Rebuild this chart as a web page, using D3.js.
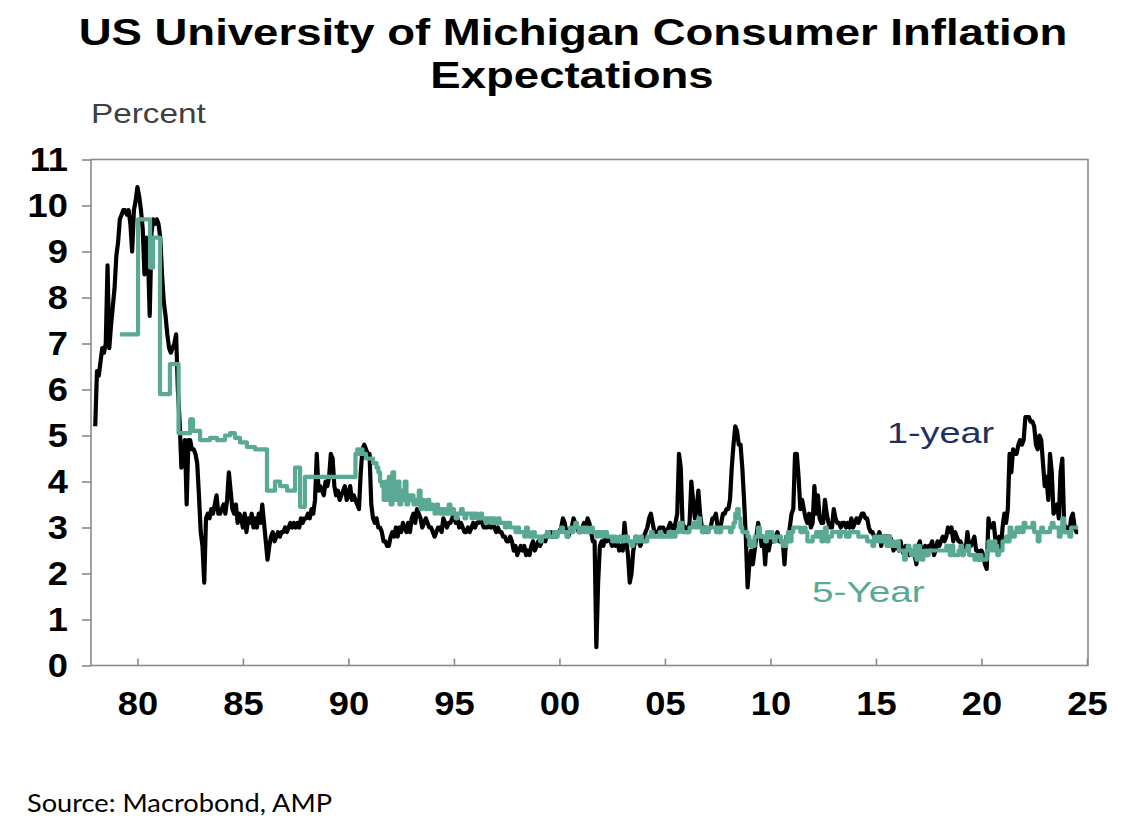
<!DOCTYPE html>
<html>
<head>
<meta charset="utf-8">
<script src="https://cdn.jsdelivr.net/npm/d3@7"></script>
<style>
  body { margin: 0; background: #fff; }
  svg { display: block; }
</style>
</head>
<body>
<svg id="chart" width="1132" height="839"></svg>
<script>
// University of Michigan, 1-year ahead expected inflation, monthly from Jan 1978
const oneYearStart = 1978;
const oneYear = [
  5.2, 6.4, 6.3, 6.6, 6.9, 6.8, 7.0, 8.7, 6.9, 7.4, 7.8, 8.2,   // 1978
  8.9, 9.2, 9.7, 9.8, 9.9, 9.9, 9.8, 9.9, 9.6, 9.0, 9.9, 10.1,  // 1979
  10.4, 10.2, 9.9, 9.5, 8.5, 9.3, 8.9, 7.6, 9.4, 9.7, 9.6, 9.7, // 1980
  9.6, 9.3, 8.5, 7.9, 7.6, 7.2, 6.9, 6.8, 6.9, 7.0, 7.2, 6.0,   // 1981
  5.3, 4.3, 4.6, 4.9, 3.5, 4.9, 4.9, 4.7, 4.7, 4.6, 4.4, 3.7,   // 1982
  2.9, 2.6, 1.8, 3.2, 3.3, 3.2, 3.4, 3.3, 3.5, 3.7, 3.3, 3.3,   // 1983
  3.4, 3.5, 3.3, 3.6, 4.2, 3.8, 3.4, 3.3, 3.5, 3.1, 3.3, 3.2,   // 1984
  3.0, 3.3, 2.9, 3.2, 3.1, 3.3, 3.0, 3.2, 3.0, 3.3, 3.1, 3.5,   // 1985
  3.1, 2.7, 2.3, 2.6, 2.8, 2.9, 2.7, 2.8, 2.9, 2.8, 2.9, 2.9,   // 1986
  3.0, 2.9, 3.0, 3.1, 3.0, 3.1, 3.0, 3.1, 3.0, 3.2, 3.1, 3.2,   // 1987
  3.2, 3.3, 3.2, 3.4, 3.3, 3.6, 4.6, 3.8, 3.9, 3.8, 3.7, 4.0,   // 1988
  3.9, 4.1, 4.6, 4.5, 3.9, 3.7, 3.8, 3.6, 3.7, 3.8, 3.9, 3.6,   // 1989
  3.7, 3.9, 3.6, 3.7, 3.6, 3.5, 3.4, 4.2, 4.7, 4.8, 4.7, 4.6,   // 1990
  4.6, 3.5, 3.2, 3.1, 3.2, 3.0, 3.0, 2.9, 2.7, 2.7, 2.6, 2.6,   // 1991
  2.8, 2.9, 2.8, 3.0, 2.8, 3.0, 2.9, 3.1, 3.0, 2.9, 3.1, 2.9,   // 1992
  3.2, 3.3, 3.1, 3.4, 3.3, 3.2, 3.0, 3.1, 3.2, 3.1, 3.0, 3.0,   // 1993
  2.9, 2.8, 2.9, 3.0, 3.0, 2.9, 3.2, 3.1, 3.0, 3.1, 3.1, 3.2,   // 1994
  3.3, 3.1, 3.2, 3.0, 3.1, 3.0, 2.9, 2.9, 3.0, 2.9, 3.0, 3.1,   // 1995
  3.0, 3.1, 3.1, 3.2, 3.1, 3.0, 3.0, 3.0, 3.1, 3.0, 3.1, 3.0,   // 1996
  2.9, 3.0, 2.9, 2.9, 2.8, 2.8, 2.7, 2.7, 2.8, 2.7, 2.5, 2.6,   // 1997
  2.4, 2.5, 2.6, 2.5, 2.6, 2.4, 2.5, 2.4, 2.6, 2.7, 2.5, 2.6,   // 1998
  2.7, 2.6, 2.7, 2.8, 2.7, 2.9, 2.8, 2.9, 2.8, 2.9, 2.8, 2.9,   // 1999
  2.9, 3.0, 3.2, 3.1, 2.9, 2.8, 2.9, 3.0, 3.2, 3.1, 3.0, 2.9,   // 2000
  2.9, 3.0, 3.1, 3.0, 3.2, 3.1, 2.9, 2.7, 2.7, 0.4, 1.8, 2.6,   // 2001
  2.7, 2.6, 2.8, 2.7, 2.8, 2.7, 2.6, 2.7, 2.6, 2.7, 2.5, 2.6,   // 2002
  2.5, 3.1, 2.7, 2.4, 1.8, 2.0, 2.5, 2.7, 2.8, 2.7, 2.6, 2.7,   // 2003
  2.8, 2.9, 3.0, 3.2, 3.3, 3.1, 2.9, 2.9, 2.9, 3.0, 3.0, 3.0,   // 2004
  2.9, 2.9, 3.0, 3.1, 3.0, 2.9, 3.1, 3.3, 4.6, 4.3, 3.1, 3.0,   // 2005
  3.0, 2.9, 3.1, 4.0, 3.6, 3.2, 3.4, 3.8, 3.3, 3.0, 2.9, 3.0,   // 2006
  2.9, 3.0, 3.0, 3.2, 3.2, 3.3, 3.0, 2.9, 3.1, 3.3, 3.3, 3.4,   // 2007
  3.4, 3.6, 4.3, 4.8, 5.2, 5.1, 4.8, 4.8, 4.3, 3.6, 2.8, 1.7,   // 2008
  2.2, 2.5, 2.2, 2.5, 2.8, 3.1, 2.9, 2.6, 2.8, 2.2, 2.8, 2.5,   // 2009
  2.7, 2.7, 2.7, 2.8, 2.9, 2.7, 2.7, 2.7, 2.2, 2.8, 2.7, 3.0,   // 2010
  3.3, 3.4, 4.6, 4.6, 4.1, 3.4, 3.6, 3.4, 3.2, 3.1, 3.3, 3.0,   // 2011
  3.1, 3.9, 3.3, 3.7, 3.2, 3.1, 3.1, 3.6, 3.3, 3.1, 3.0, 3.0,   // 2012
  3.4, 3.2, 3.1, 3.1, 3.0, 3.1, 3.1, 3.0, 3.1, 3.0, 3.2, 3.0,   // 2013
  3.1, 3.2, 3.1, 3.2, 3.3, 3.3, 3.2, 3.2, 3.0, 2.9, 2.9, 2.8,   // 2014
  2.8, 2.8, 2.9, 2.6, 2.8, 2.8, 2.8, 2.8, 2.8, 2.7, 2.5, 2.6,   // 2015
  2.6, 2.5, 2.7, 2.5, 2.4, 2.6, 2.5, 2.4, 2.5, 2.4, 2.4, 2.2,   // 2016
  2.6, 2.7, 2.4, 2.5, 2.6, 2.4, 2.6, 2.6, 2.7, 2.4, 2.5, 2.7,   // 2017
  2.6, 2.7, 2.8, 2.7, 2.8, 3.0, 2.9, 3.0, 2.7, 2.9, 2.8, 2.7,   // 2018
  2.7, 2.6, 2.5, 2.5, 2.9, 2.6, 2.6, 2.7, 2.8, 2.5, 2.5, 2.3,   // 2019
  2.5, 2.4, 2.2, 2.1, 3.2, 3.0, 3.0, 3.1, 2.7, 2.6, 2.8, 2.5,   // 2020
  3.0, 3.3, 3.1, 3.4, 4.6, 4.2, 4.7, 4.6, 4.6, 4.8, 4.9, 4.8,   // 2021
  4.9, 5.4, 5.4, 5.4, 5.3, 5.3, 5.2, 4.8, 4.7, 5.0, 4.9, 4.4,   // 2022
  3.9, 4.1, 3.6, 4.6, 4.2, 3.3, 3.4, 3.5, 3.2, 4.2, 4.5, 3.1,   // 2023
  2.9, 3.0, 2.9, 3.2, 3.3, 3.0, 2.9, 2.9                        // 2024
];

// 5-year expectations: irregular survey readings before 1990 (decimal year, value)
const fiveYearEarlyDates = [1979.17, 1980.03, 1980.6, 1980.74, 1981.07, 1981.54, 1981.95,
  1982.5, 1982.63, 1982.97, 1983.44, 1983.77, 1984.15, 1984.39, 1984.62, 1984.86,
  1985.19, 1985.57, 1986.14, 1986.52, 1986.76, 1987.09, 1987.47, 1987.71, 1987.94];
const fiveYearEarlyValues = [7.2, 9.7, 8.65, 9.3, 5.9, 6.55, 5.05,
  5.35, 5.1, 4.9, 4.95, 4.9, 5.0, 5.05, 4.95, 4.85,
  4.75, 4.7, 3.8, 4.0, 3.9, 3.8, 4.3, 3.45, 4.1];

// 5-year expectations, monthly from May 1990
const fiveYearStart = 1990 + 4 / 12;
const fiveYear = [
  4.6, 4.7, 4.6, 4.7, 4.6, 4.6, 4.5, 4.5,                       // 1990 May-Dec
  4.5, 4.5, 4.4, 4.4, 4.3, 4.2, 4.0, 3.9, 3.6, 4.0, 3.6, 4.1,   // 1991
  3.5, 4.2, 3.6, 3.7, 4.0, 3.5, 3.8, 3.6, 4.0, 3.5, 3.7, 3.6,   // 1992
  3.7, 3.5, 3.6, 3.5, 3.8, 3.4, 3.6, 3.5, 3.4, 3.6, 3.4, 3.5,   // 1993
  3.4, 3.3, 3.5, 3.4, 3.3, 3.4, 3.3, 3.4, 3.3, 3.5, 3.3, 3.4,   // 1994
  3.3, 3.2, 3.3, 3.3, 3.4, 3.3, 3.2, 3.3, 3.3, 3.3, 3.2, 3.3,   // 1995
  3.3, 3.2, 3.2, 3.3, 3.2, 3.2, 3.1, 3.2, 3.2, 3.1, 3.2, 3.1,   // 1996
  3.1, 3.2, 3.1, 3.1, 3.1, 3.0, 3.1, 3.1, 3.0, 3.0, 3.0, 2.9,   // 1997
  3.0, 2.9, 2.9, 2.9, 2.8, 3.0, 2.9, 2.8, 2.8, 2.9, 2.8, 2.8,   // 1998
  2.8, 2.7, 2.8, 2.8, 2.8, 2.9, 2.8, 2.8, 2.8, 2.9, 2.8, 2.9,   // 1999
  2.9, 3.0, 2.9, 2.9, 2.8, 2.9, 3.0, 2.9, 3.0, 3.1, 3.0, 2.9,   // 2000
  2.9, 3.0, 2.9, 3.0, 2.9, 2.9, 3.0, 2.9, 2.9, 2.8, 2.9, 2.9,   // 2001
  2.8, 2.9, 2.9, 2.8, 2.8, 2.8, 2.7, 2.8, 2.7, 2.7, 2.8, 2.7,   // 2002
  2.7, 2.8, 2.8, 2.7, 2.7, 2.6, 2.7, 2.8, 2.7, 2.7, 2.8, 2.7,   // 2003
  2.7, 2.7, 2.8, 2.8, 2.9, 2.8, 2.8, 2.8, 2.8, 2.9, 2.8, 2.8,   // 2004
  2.8, 2.8, 2.9, 2.8, 2.9, 2.8, 2.9, 2.9, 3.1, 3.1, 2.9, 2.9,   // 2005
  2.9, 2.9, 3.0, 3.0, 3.1, 3.0, 3.0, 3.2, 3.0, 2.9, 3.0, 3.0,   // 2006
  2.9, 3.0, 3.0, 3.0, 3.0, 2.9, 3.0, 2.9, 3.0, 3.0, 3.0, 3.0,   // 2007
  3.0, 2.9, 3.0, 3.1, 3.3, 3.4, 3.2, 3.0, 2.9, 2.9, 2.9, 2.8,   // 2008
  2.6, 2.7, 2.6, 2.8, 2.8, 3.0, 2.8, 2.8, 2.8, 2.7, 2.9, 2.8,   // 2009
  2.9, 2.8, 2.7, 2.8, 2.8, 2.8, 2.7, 2.6, 2.6, 2.8, 2.9, 2.7,   // 2010
  2.9, 3.0, 3.0, 3.0, 3.0, 2.9, 2.9, 3.0, 2.9, 2.7, 2.7, 2.7,   // 2011
  2.8, 2.8, 2.9, 2.8, 2.9, 2.7, 2.9, 3.0, 2.7, 2.8, 2.8, 2.9,   // 2012
  2.9, 2.9, 2.9, 2.8, 2.9, 2.9, 2.9, 2.8, 2.8, 2.9, 2.9, 2.9,   // 2013
  2.9, 2.9, 2.8, 2.8, 2.8, 2.8, 2.8, 2.7, 2.7, 2.7, 2.6, 2.8,   // 2014
  2.8, 2.7, 2.8, 2.7, 2.8, 2.7, 2.6, 2.8, 2.6, 2.7, 2.6, 2.6,   // 2015
  2.7, 2.5, 2.5, 2.5, 2.3, 2.5, 2.6, 2.5, 2.4, 2.4, 2.6, 2.3,   // 2016
  2.6, 2.5, 2.3, 2.4, 2.5, 2.4, 2.5, 2.5, 2.5, 2.5, 2.5, 2.5,   // 2017
  2.5, 2.5, 2.5, 2.5, 2.6, 2.6, 2.4, 2.6, 2.4, 2.4, 2.4, 2.5,   // 2018
  2.6, 2.4, 2.5, 2.5, 2.6, 2.4, 2.4, 2.4, 2.3, 2.4, 2.3, 2.4,   // 2019
  2.3, 2.3, 2.3, 2.5, 2.7, 2.5, 2.5, 2.7, 2.6, 2.4, 2.5, 2.5,   // 2020
  2.7, 2.7, 2.8, 2.7, 3.0, 2.8, 2.8, 2.9, 3.0, 2.9, 3.0, 2.9,   // 2021
  3.1, 3.0, 3.0, 3.0, 3.0, 3.1, 2.9, 2.9, 2.7, 2.9, 3.0, 2.9,   // 2022
  2.9, 2.9, 2.9, 3.0, 3.1, 3.0, 3.0, 3.0, 2.8, 3.0, 3.2, 2.9,   // 2023
  2.9, 2.9, 2.8, 3.0, 3.0, 3.0, 3.0, 3.0                        // 2024
];

const yTicks = d3.range(0, 12);
const xTicks = [1980, 1985, 1990, 1995, 2000, 2005, 2010, 2015, 2020, 2025];

const svg = d3.select("#chart");
const plotLeft = 91, plotRight = 1088, plotTop = 159.5, plotBottom = 665.5;
const sans = "'Liberation Sans', Arial, sans-serif";

const x = d3.scaleLinear().domain([1977.8, 2025.05]).range([plotLeft, plotRight]);
const y = d3.scaleLinear().domain([0, 11]).range([plotBottom, plotTop]);

// the source chart's lettering is a little wider than plain Arial
function widen(sel, k) {
  sel.each(function () {
    const w = this.getComputedTextLength();
    d3.select(this).attr("textLength", w * k).attr("lengthAdjust", "spacingAndGlyphs");
  });
}

// titles
svg.append("text")
  .attr("x", 573).attr("y", 45)
  .attr("text-anchor", "middle")
  .style("font-family", sans)
  .style("font-weight", "bold").style("font-size", "37px")
  .text("US University of Michigan Consumer Inflation")
  .call(widen, 1.23);
svg.append("text")
  .attr("x", 572).attr("y", 88)
  .attr("text-anchor", "middle")
  .style("font-family", sans)
  .style("font-weight", "bold").style("font-size", "37px")
  .text("Expectations")
  .call(widen, 1.23);
svg.append("text")
  .attr("x", 91).attr("y", 123)
  .style("font-family", sans)
  .style("font-size", "28px").style("fill", "#404040")
  .text("Percent")
  .call(widen, 1.19);

// axes
const yAxis = svg.append("g")
  .attr("transform", `translate(${plotLeft},0)`)
  .call(d3.axisLeft(y).tickValues(yTicks).tickSize(9).tickPadding(14));
const xAxis = svg.append("g")
  .attr("transform", `translate(0,${plotBottom})`)
  .call(d3.axisBottom(x).tickValues(xTicks).tickSizeInner(-7).tickSizeOuter(0).tickPadding(26)
    .tickFormat(d => String(d % 100).padStart(2, "0")));

[yAxis, xAxis].forEach(g => {
  g.select(".domain").remove();
  g.selectAll("line").attr("stroke", "#8a8a8a").attr("stroke-width", 1.6);
  g.selectAll("text")
    .style("font-family", sans)
    .style("font-weight", "bold").style("font-size", "33px")
    .attr("fill", "#000")
    .call(widen, 1.1);
});

svg.append("rect")
  .attr("x", plotLeft).attr("y", plotTop)
  .attr("width", plotRight - plotLeft).attr("height", plotBottom - plotTop)
  .attr("fill", "none").attr("stroke", "#8a8a8a").attr("stroke-width", 1.6);

// series
const oneYearPts = oneYear.map((v, i) => [oneYearStart + i / 12, v]);
const fiveYearPts = fiveYearEarlyDates.map((d, i) => [d, fiveYearEarlyValues[i]])
  .concat(fiveYear.map((v, i) => [fiveYearStart + i / 12, v]));

const line = d3.line().x(d => x(d[0])).y(d => y(d[1]));

svg.append("path")
  .datum(oneYearPts)
  .attr("d", line.curve(d3.curveLinear))
  .attr("fill", "none").attr("stroke", "#000")
  .attr("stroke-width", 4.2).attr("stroke-linejoin", "round");

svg.append("path")
  .datum(fiveYearPts)
  .attr("d", line.curve(d3.curveStepAfter))
  .attr("fill", "none").attr("stroke", "#5aa995")
  .attr("stroke-width", 4.2).attr("stroke-linejoin", "round");

// series labels
svg.append("text")
  .attr("x", 887).attr("y", 443)
  .style("font-family", sans)
  .style("font-size", "30px").style("fill", "#1f3060")
  .text("1-year")
  .call(widen, 1.26);
svg.append("text")
  .attr("x", 812).attr("y", 602)
  .style("font-family", sans)
  .style("font-size", "30px").style("fill", "#5aa995")
  .text("5-Year")
  .call(widen, 1.29);

svg.append("text")
  .attr("x", 27).attr("y", 812)
  .style("font-family", "Lato, 'Open Sans', sans-serif")
  .style("font-size", "25px").style("fill", "#000")
  .text("Source: Macrobond, AMP")
  .attr("textLength", 305).attr("lengthAdjust", "spacingAndGlyphs");
</script>
</body>
</html>
